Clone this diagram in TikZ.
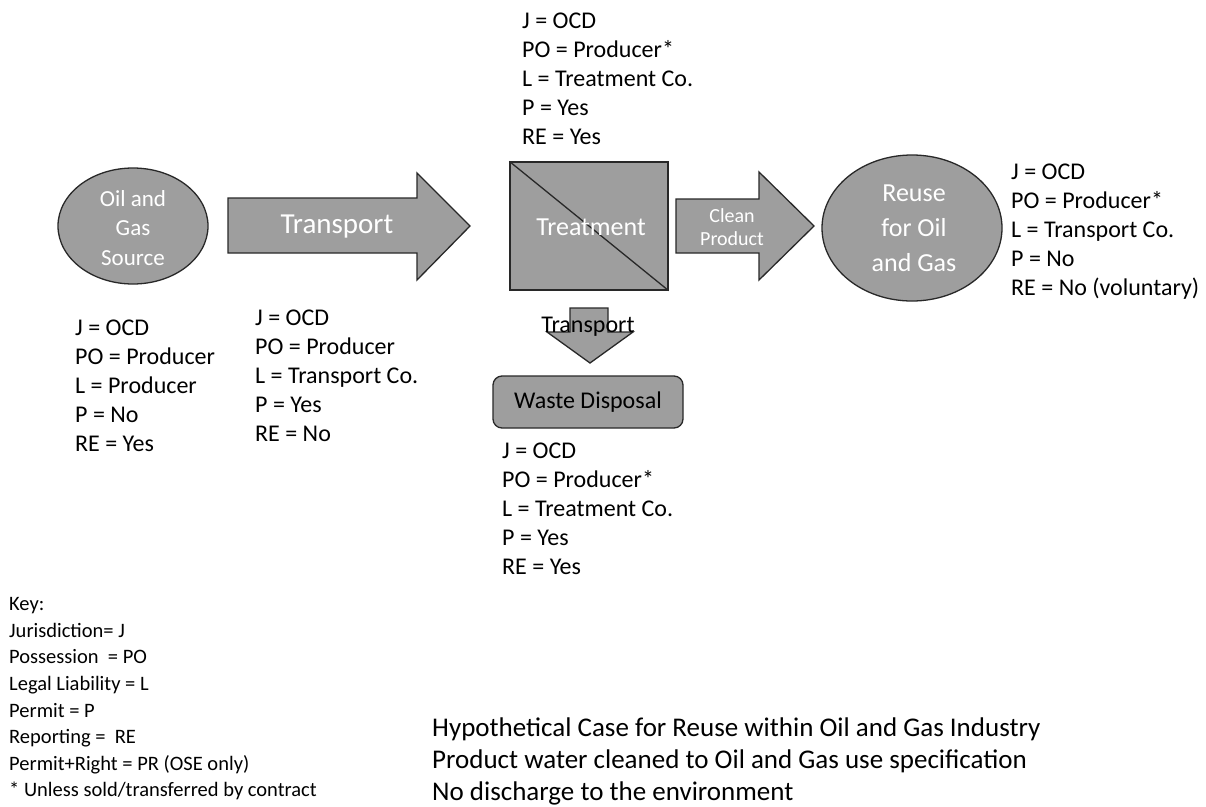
\documentclass[tikz,border=0pt]{standalone}
\usepackage{fontspec}
\setmainfont{Carlito}
\usetikzlibrary{shapes.geometric}
\definecolor{shade}{RGB}{158,158,158}
\definecolor{edge}{RGB}{40,40,40}
\tikzset{
  blob/.style={draw=edge, line width=1.3pt, fill=shade, inner sep=0pt, text=white, align=center},
  blockarrow/.style={draw=edge, line width=1.3pt, fill=shade, line join=miter},
  intext/.style={text=white, align=center, inner sep=0pt},
  info/.style={inner sep=0pt, font=\fontsize{24}{29}\selectfont, anchor=base west},
  keytext/.style={inner sep=0pt, font=\fontsize{20.5}{25}\selectfont, anchor=base west},
  notetext/.style={inner sep=0pt, font=\fontsize{27}{32}\selectfont, anchor=base west},
}
% one text line per node: name, x, first baseline, line pitch, style, lines
\newcommand\infoblock[6]{%
  \foreach \t [count=\i] in {#6} {%
    \node[#5] (#1-\i) at (#2, {#3 + (\i-1)*#4}) {\t};
  }%
}
\begin{document}
\begin{tikzpicture}[x=1pt,y=-1pt]
\useasboundingbox (0,0) rectangle (1206,806);

% source well
\node[blob, ellipse, minimum width=150pt, minimum height=116pt] (src) at (133,226) {};
\node[intext, font=\fontsize{23}{29.5}\selectfont] (srclbl) at (133,228) {Oil and\\Gas\\Source};

% transport arrow
\draw[blockarrow] (228,198) -- (417,198) -- (417,173) -- (470,226) -- (417,280)
  -- (417,253) -- (228,253) -- cycle;
\node[intext, font=\fontsize{29}{32}\selectfont] (haul) at (337,227) {Transport};

% treatment unit
\node[blob, rectangle, minimum width=158pt, minimum height=128pt] (treat) at (589,226) {};
\draw[edge, line width=1.3pt] (treat.north west) -- (treat.south east);
\node[intext, font=\fontsize{26}{30}\selectfont] (treatlbl) at (591,227) {Treatment};

% clean product arrow
\draw[blockarrow] (676,199) -- (759,199) -- (759,172) -- (814,226) -- (759,280)
  -- (759,253) -- (676,253) -- cycle;
\node[intext, font=\fontsize{20}{23}\selectfont] (clean) at (732,227) {Clean\\Product};

% reuse
\node[blob, ellipse, minimum width=180pt, minimum height=146pt] (reuse) at (912,228) {};
\node[intext, font=\fontsize{26}{35}\selectfont] (reuselbl) at (914,228) {Reuse\\for Oil\\and Gas};

% transport to disposal
\draw[blockarrow] (570,308) -- (608,308) -- (608,332) -- (633,332) -- (590,363)
  -- (547,332) -- (570,332) -- cycle;
\node[inner sep=0pt, font=\fontsize{24}{28}\selectfont] (haul2) at (588,327) {Transport};

% waste disposal
\node[blob, rectangle, rounded corners=9pt, minimum width=190pt, minimum height=52pt,
      text=black, font=\fontsize{24}{28}\selectfont] (waste) at (588,402) {Waste Disposal};

% status blocks
\infoblock{tinfo}{522}{28.7}{29}{info}{J = OCD, PO = Producer*, L = Treatment Co., P = Yes, RE = Yes}
\infoblock{sinfo}{75}{335.7}{29}{info}{J = OCD, PO = Producer, L = Producer, P = No, RE = Yes}
\infoblock{hinfo}{255}{325.7}{29}{info}{J = OCD, PO = Producer, L = Transport Co., P = Yes, RE = No}
\infoblock{rinfo}{1011}{179.7}{29}{info}{J = OCD, PO = Producer*, L = Transport Co., P = No, RE = No (voluntary)}
\infoblock{winfo}{502}{458.7}{29}{info}{J = OCD, PO = Producer*, L = Treatment Co., P = Yes, RE = Yes}

% key
\infoblock{key}{9}{610.6}{26.6}{keytext}{Key:, Jurisdiction= J, Possession~ = PO, Legal Liability = L, Permit = P, Reporting = ~RE, Permit+Right = PR (OSE only), * Unless sold/transferred by contract}

% case notes
\infoblock{note}{432}{736.7}{32}{notetext}{Hypothetical Case for Reuse within Oil and Gas Industry, Product water cleaned to Oil and Gas use specification, No discharge to the environment}
\end{tikzpicture}
\end{document}
